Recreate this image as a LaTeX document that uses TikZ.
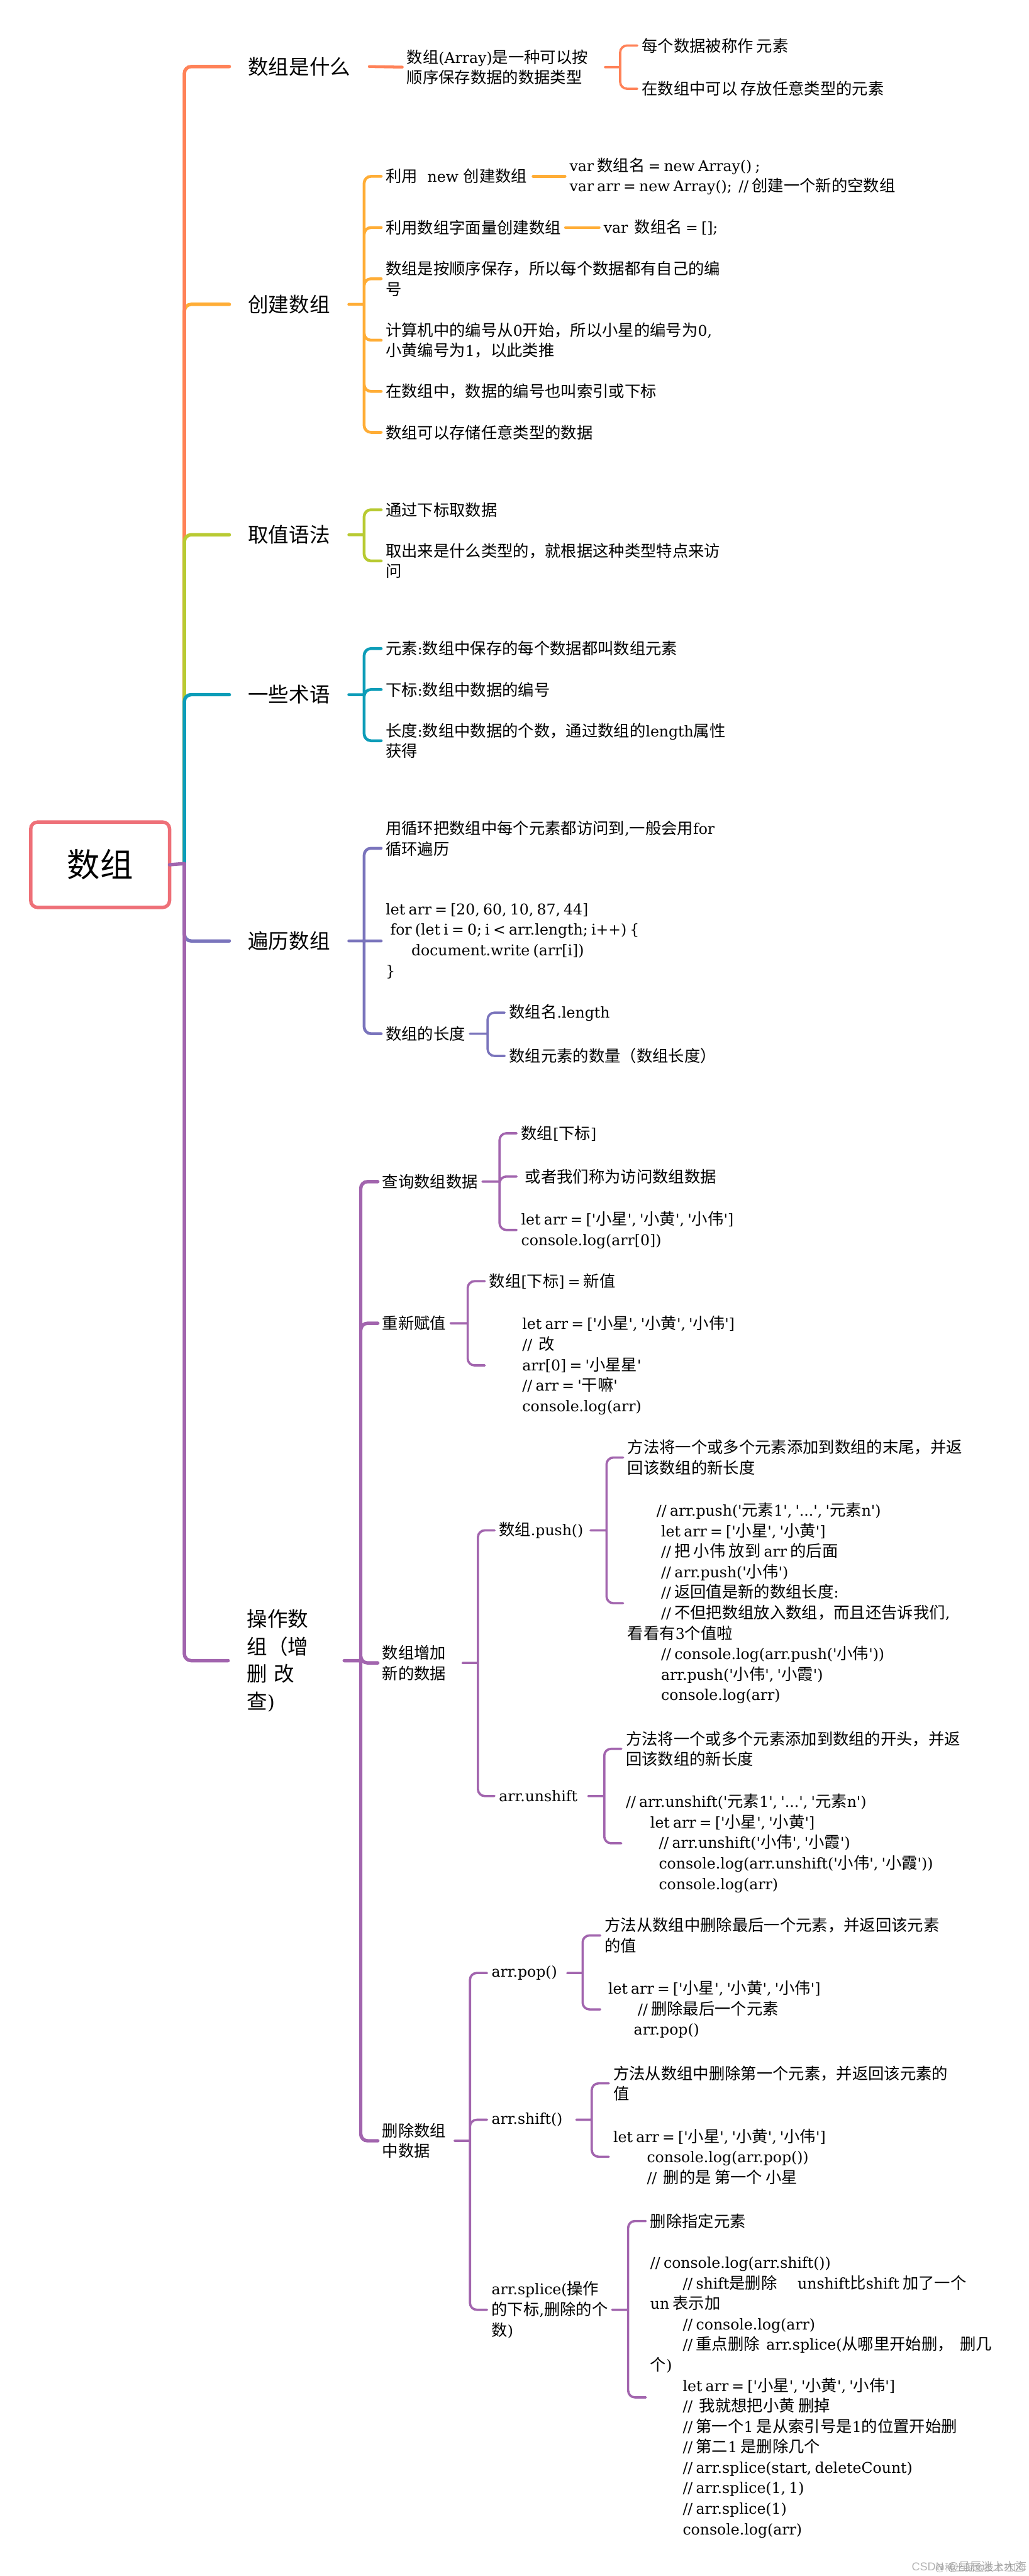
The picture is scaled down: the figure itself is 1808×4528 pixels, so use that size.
\documentclass[tikz,border=0pt]{standalone}
\usepackage{fontspec}
\usepackage{tikz}
\newfontfamily\enfont{DejaVu Serif}[Scale=0.93, WordSpace=0.7]
\newfontfamily\cjk{Noto Sans CJK SC}
\newfontfamily\wmfont{Liberation Sans}
% chinese characters switch font by themselves
\newXeTeXintercharclass\zhclass
\newcount\zhchar
\zhchar="3000 \loop \XeTeXcharclass\zhchar=\zhclass \advance\zhchar by 1 \ifnum\zhchar<"A000 \repeat
\zhchar="FF00 \loop \XeTeXcharclass\zhchar=\zhclass \advance\zhchar by 1 \ifnum\zhchar<"FFF0 \repeat
\XeTeXinterchartoks 0 \zhclass = {\cjk}
\XeTeXinterchartoks 4095 \zhclass = {\cjk}
\XeTeXinterchartoks \zhclass 0 = {\enfont}
\XeTeXinterchartoks \zhclass 4095 = {\enfont}
\XeTeXinterchartokenstate=1
\definecolor{rootred}{HTML}{EE7078}
\definecolor{salmon}{HTML}{FF8258}
\definecolor{amber}{HTML}{FFAD36}
\definecolor{lime}{HTML}{B8CA32}
\definecolor{teal}{HTML}{0D9DB8}
\definecolor{indigo}{HTML}{7A74BC}
\definecolor{plum}{HTML}{A265AE}
\tikzstyle{txt} = [anchor=west, inner xsep=4pt, inner ysep=0pt, outer sep=0pt, align=left, font=\fontsize{14}{18}\selectfont\enfont]
\tikzstyle{topic} = [txt, inner xsep=16.5pt, font=\fontsize{18}{24}\selectfont\enfont]
\tikzstyle{trunk} = [line width=3pt, line cap=round, rounded corners=6pt]
\tikzstyle{limb} = [line width=2.5pt, line cap=round, rounded corners=6pt]
\tikzstyle{twig} = [line width=2pt, line cap=round, rounded corners=6pt]
\tikzstyle{wm} = [anchor=west, inner sep=0pt, text=gray, opacity=0.6, font=\fontsize{10}{12}\selectfont\wmfont]

\begin{document}
\begin{tikzpicture}[x=0.5pt, y=-0.5pt]
	\useasboundingbox (0,0) rectangle (1808,4528);
	\node[draw=rootred, line width=3pt, rounded corners=6pt, minimum width=122pt, minimum height=75pt, inner sep=0pt, outer sep=0pt, font=\fontsize{29}{34}\selectfont\enfont] (root) at (176,1520) {数组};
	\coordinate (hub) at (324,1518);

	% main topics
	\node[topic] (what) at (403,117) {数组是什么};
	\node[topic] (create) at (403,535) {创建数组};
	\node[topic] (fetch) at (403,940) {取值语法};
	\node[topic] (terms) at (403,1221) {一些术语};
	\node[topic] (walk) at (403,1654) {遍历数组};
	\node[topic, text width=69pt] (oper) at (401,2919) {操作数\\组（增\\删 改\\查)};

	% what
	\node[txt, text width=170pt] (whatdef) at (707,118) {数组(Array)是一种可以按\\顺序保存数据的数据类型};
	\coordinate (whathub) at (1090,118);
	\node[txt] (whatone) at (1120,80) {每个数据被称作 元素};
	\node[txt] (whattwo) at (1120,156) {在数组中可以 存放任意类型的元素};

	% create
	\coordinate (createhub) at (640,535);
	\node[txt, text width=125.5pt] (bynew) at (670,310) {利用~~new 创建数组};
	\node[txt] (bynewcode) at (993,310) {var 数组名 = new Array() ;\\var arr = new Array();~~// 创建一个新的空数组};
	\node[txt] (byliteral) at (670,400) {利用数组字面量创建数组};
	\node[txt] (byliteralcode) at (1053,400) {var~~数组名 = [];};
	\node[txt] (order) at (670,490) {数组是按顺序保存，所以每个数据都有自己的编\\号};
	\node[txt] (zero) at (670,598) {计算机中的编号从0开始，所以小星的编号为0,\\小黄编号为1，以此类推};
	\node[txt] (index) at (670,688) {在数组中，数据的编号也叫索引或下标};
	\node[txt] (anytype) at (670,760) {数组可以存储任意类型的数据};

	% fetch
	\coordinate (fetchhub) at (640,940);
	\node[txt] (fetchone) at (670,896) {通过下标取数据};
	\node[txt] (fetchtwo) at (670,986) {取出来是什么类型的，就根据这种类型特点来访\\问};

	% terms
	\coordinate (termshub) at (640,1221);
	\node[txt] (termone) at (670,1140) {元素:数组中保存的每个数据都叫数组元素};
	\node[txt] (termtwo) at (670,1212) {下标:数组中数据的编号};
	\node[txt] (termthree) at (670,1302) {长度:数组中数据的个数，通过数组的length属性\\获得};

	% walk
	\coordinate (walkhub) at (640,1654);
	\node[txt] (walkone) at (670,1491) {用循环把数组中每个元素都访问到,一般会用for\\循环遍历\\ \mbox{}};
	\node[txt] (walkcode) at (670,1654) {let arr = [20, 60, 10, 87, 44]\\\hspace*{4pt}for (let i = 0; i < arr.length; i++) \{\\\hspace*{22.5pt}document.write (arr[i])\\\}};
	\node[txt] (walklen) at (670,1817) {数组的长度};
	\coordinate (walklenhub) at (857,1817);
	\node[txt] (lenname) at (887,1780) {数组名.length};
	\node[txt] (lencount) at (887,1856) {数组元素的数量（数组长度）};

	% oper, first level
	\coordinate (operhub) at (634,2919);
	\node[txt] (query) at (664,2077) {查询数组数据};
	\node[txt] (assign) at (664,2326) {重新赋值};
	\node[txt, text width=66.5pt] (add) at (664,2923) {数组增加\\新的数据};
	\node[txt, text width=59.5pt] (del) at (664,3763) {删除数组\\中数据};

	% query and assign
	\coordinate (queryhub) at (878,2077);
	\node[txt] (queryone) at (908,1992) {数组[下标]};
	\node[txt] (querytwo) at (908,2068) {\hspace*{3.5pt}或者我们称为访问数组数据};
	\node[txt] (querycode) at (908,2162) {let arr = ['小星', '小黄', '小伟']\\console.log(arr[0])};
	\coordinate (assignhub) at (822,2326);
	\node[txt] (assignone) at (852,2252) {数组[下标] = 新值};
	\node[txt] (assigncode) at (852,2400) {\hspace*{29pt}let arr = ['小星', '小黄', '小伟']\\\hspace*{29pt}//~~改\\\hspace*{29pt}arr[0] = '小星星'\\\hspace*{29pt}// arr = '干嘛'\\\hspace*{29pt}console.log(arr)};

	% add
	\coordinate (addhub) at (840,2923);
	\node[txt, text width=76.5pt] (push) at (869,2690) {数组.push()};
	\node[txt, text width=74.5pt] (unshift) at (869,3157) {arr.unshift};
	\coordinate (pushhub) at (1066,2690);
	\node[txt] (pushdef) at (1095,2562) {方法将一个或多个元素添加到数组的末尾，并返\\回该数组的新长度};
	\node[txt] (pushcode) at (1095,2818) {\hspace*{25.5pt}// arr.push('元素1', '...', '元素n')\\\hspace*{29.5pt}let arr = ['小星', '小黄']\\\hspace*{29.5pt}// 把 小伟 放到 arr 的后面\\\hspace*{29.5pt}// arr.push('小伟')\\\hspace*{29.5pt}// 返回值是新的数组长度:\\\hspace*{29.5pt}// 不但把数组放入数组，而且还告诉我们,\\看看有3个值啦\\\hspace*{29.5pt}// console.log(arr.push('小伟'))\\\hspace*{29.5pt}arr.push('小伟', '小霞')\\\hspace*{29.5pt}console.log(arr)};
	\coordinate (unshifthub) at (1062,3157);
	\node[txt] (unshiftdef) at (1092,3074) {方法将一个或多个元素添加到数组的开头，并返\\回该数组的新长度};
	\node[txt] (unshiftcode) at (1092,3240) {// arr.unshift('元素1', '...', '元素n')\\\hspace*{21.5pt}let arr = ['小星', '小黄']\\\hspace*{29pt}// arr.unshift('小伟', '小霞')\\\hspace*{29pt}console.log(arr.unshift('小伟', '小霞'))\\\hspace*{29pt}console.log(arr)};

	% del
	\coordinate (delhub) at (826,3763);
	\node[txt, text width=62.5pt] (pop) at (856,3468) {arr.pop()};
	\node[txt, text width=70.5pt] (shift) at (856,3726) {arr.shift()};
	\node[txt, text width=102pt] (splice) at (856,4060) {arr.splice(操作\\的下标,删除的个\\数)};
	\coordinate (pophub) at (1024,3468);
	\node[txt] (popdef) at (1055,3402) {方法从数组中删除最后一个元素，并返回该元素\\的值};
	\node[txt] (popcode) at (1055,3532) {\hspace*{3pt}let arr = ['小星', '小黄', '小伟']\\\hspace*{29pt}// 删除最后一个元素\\\hspace*{25.5pt}arr.pop()};
	\coordinate (shifthub) at (1040,3726);
	\node[txt] (shiftdef) at (1070,3662) {方法从数组中删除第一个元素，并返回该元素的\\值};
	\node[txt] (shiftcode) at (1070,3791) {let arr = ['小星', '小黄', '小伟']\\\hspace*{29.5pt}console.log(arr.pop())\\\hspace*{29.5pt}//~~删的是 第一个 小星};
	\coordinate (splicehub) at (1104,4060);
	\node[txt] (splicedef) at (1135,3904) {删除指定元素};
	\node[txt] (splicecode) at (1135,4214) {// console.log(arr.shift())\\\hspace*{28.5pt}// shift是删除\hspace{18pt}unshift比shift 加了一个\\un 表示加\\\hspace*{28.5pt}// console.log(arr)\\\hspace*{28.5pt}// 重点删除~~arr.splice(从哪里开始删，~~删几\\个)\\\hspace*{28.5pt}let arr = ['小星', '小黄', '小伟']\\\hspace*{28.5pt}//~~我就想把小黄 删掉\\\hspace*{28.5pt}// 第一个1 是从索引号是1的位置开始删\\\hspace*{28.5pt}// 第二1 是删除几个\\\hspace*{28.5pt}// arr.splice(start, deleteCount)\\\hspace*{28.5pt}// arr.splice(1, 1)\\\hspace*{28.5pt}// arr.splice(1)\\\hspace*{28.5pt}console.log(arr)};

	\node[wm] (markone) at (1602,4512) {CSDN @星辰迷上大海};
	\node[wm, font=\fontsize{8.6}{12}\selectfont\wmfont] (marktwo) at (1643,4514) {@稀土掘金技术社区};

	% trunk, later ones lie on top
	\draw[trunk, amber] (hub) |- (create.west);
	\draw[trunk, salmon] (hub) |- (what.west);
	\draw[trunk, lime] (hub) |- (fetch.west);
	\draw[trunk, teal] (hub) |- (terms.west);
	\draw[trunk, indigo] (hub) |- (walk.west);
	\draw[trunk, plum] (hub) |- (oper.west);
	\draw[trunk, plum] (root.east) -- (hub);

	% branches
	\draw[limb, salmon] (what.east) -- (whatdef.west);
	\draw[twig, salmon] (whatdef.east) -- (whathub) (whathub) |- (whatone.west) (whathub) |- (whattwo.west);
	\draw[limb, amber] (create.east) -- (createhub) (createhub) |- (bynew.west) (createhub) |- (byliteral.west) (createhub) |- (order.west) (createhub) |- (zero.west) (createhub) |- (index.west) (createhub) |- (anytype.west);
	\draw[limb, amber] (bynew.east) -- (bynewcode.west);
	\draw[limb, amber] (byliteral.east) -- (byliteralcode.west);
	\draw[limb, lime] (fetch.east) -- (fetchhub) (fetchhub) |- (fetchone.west) (fetchhub) |- (fetchtwo.west);
	\draw[limb, teal] (terms.east) -- (termshub) (termshub) |- (termone.west) (termshub) |- (termtwo.west) (termshub) |- (termthree.west);
	\draw[limb, indigo] (walk.east) -- (walkhub) (walkhub) |- (walkone.west) (walkhub) -- (walkcode.west) (walkhub) |- (walklen.west);
	\draw[twig, indigo] (walklen.east) -- (walklenhub) (walklenhub) |- (lenname.west) (walklenhub) |- (lencount.west);
	\draw[trunk, plum] (oper.east) -- (operhub) (operhub) |- (query.west) (operhub) |- (assign.west) (operhub) |- (add.west) (operhub) |- (del.west);
	\draw[twig, plum] (query.east) -- (queryhub) (queryhub) |- (queryone.west) (queryhub) |- (querytwo.west) (queryhub) |- (querycode.west);
	\draw[twig, plum] (assign.east) -- (assignhub) (assignhub) |- (assignone.west) (assignhub) |- (assigncode.west);
	\draw[twig, plum] (add.east) -- (addhub) (addhub) |- (push.west) (addhub) |- (unshift.west);
	\draw[twig, plum] (push.east) -- (pushhub) (pushhub) |- (pushdef.west) (pushhub) |- (pushcode.west);
	\draw[twig, plum] (unshift.east) -- (unshifthub) (unshifthub) |- (unshiftdef.west) (unshifthub) |- (unshiftcode.west);
	\draw[twig, plum] (del.east) -- (delhub) (delhub) |- (pop.west) (delhub) |- (shift.west) (delhub) |- (splice.west);
	\draw[twig, plum] (pop.east) -- (pophub) (pophub) |- (popdef.west) (pophub) |- (popcode.west);
	\draw[twig, plum] (shift.east) -- (shifthub) (shifthub) |- (shiftdef.west) (shifthub) |- (shiftcode.west);
	\draw[twig, plum] (splice.east) -- (splicehub) (splicehub) |- (splicedef.west) (splicehub) |- (splicecode.west);
\end{tikzpicture}
\end{document}
